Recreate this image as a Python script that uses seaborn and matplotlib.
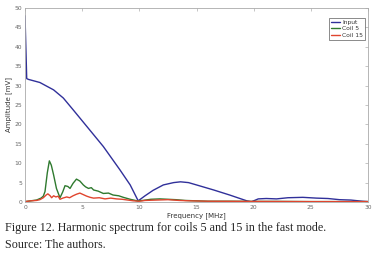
import pandas as pd
import seaborn as sns
import matplotlib.pyplot as plt

# values (frequency in MHz, amplitude in mV)
input_f = [0, 0.15, 0.3, 1.3, 2.5, 3.35, 4.2, 5.4, 6.85, 8.3, 9.2, 9.9, 10.5, 11.2, 12.1, 13.0,
           13.6, 14.3, 15.0, 16.5, 17.9, 19.4, 19.8, 20.4, 21.1, 22.0, 23.0, 24.3, 25.5, 26.5,
           27.5, 28.5, 29.5, 30.0]
input_v = [48, 31.8, 31.6, 30.8, 28.9, 26.8, 23.8, 19.5, 14.3, 8.3, 4.4, 0.3, 1.6, 3.0, 4.4, 5.0,
           5.2, 5.0, 4.4, 3.1, 1.8, 0.3, 0.05, 0.8, 0.9, 0.8, 1.1, 1.2, 1.0, 0.9,
           0.6, 0.5, 0.2, 0.1]

coil5_f = [0, 0.5, 1.0, 1.4, 1.6, 1.75, 1.95, 2.13, 2.3, 2.5, 2.75, 3.06, 3.3, 3.5, 3.75, 3.94,
           4.2, 4.5, 4.8, 5.1, 5.3, 5.55, 5.8, 6.0, 6.4, 6.85, 7.3, 7.7, 8.2, 8.6, 9.2, 9.8,
           10.3, 11.0, 11.8, 12.5, 13.2, 14.0, 15.0, 16.0, 18.0, 20.0, 22.0, 25.0, 28.0, 30.0]
coil5_v = [0.1, 0.3, 0.5, 1.0, 1.5, 2.7, 7.5, 10.6, 9.5, 7.0, 3.5, 1.1, 2.6, 4.2, 4.0, 3.5,
           4.8, 5.9, 5.4, 4.4, 3.9, 3.5, 3.7, 3.1, 2.8, 2.2, 2.3, 1.8, 1.6, 1.2, 0.7, 0.3,
           0.4, 0.7, 0.8, 0.7, 0.6, 0.4, 0.3, 0.2, 0.2, 0.15, 0.15, 0.1, 0.1, 0.1]

coil15_f = [0, 0.5, 1.0, 1.3, 1.6, 1.85, 2.0, 2.2, 2.33, 2.5, 2.7, 2.9, 3.06, 3.3, 3.65, 3.9,
            4.2, 4.5, 4.8, 5.1, 5.4, 5.7, 6.0, 6.5, 7.0, 7.5, 8.0, 8.5, 9.0, 9.5, 10.0, 10.5,
            11.5, 12.5, 13.5, 14.5, 16.0, 20.0, 25.0, 30.0]
coil15_v = [0.1, 0.3, 0.4, 0.6, 1.1, 1.8, 2.1, 1.6, 1.1, 1.6, 1.3, 1.5, 0.7, 1.0, 1.3, 1.1,
            1.6, 2.0, 2.3, 1.9, 1.5, 1.2, 1.0, 1.1, 0.8, 1.0, 0.8, 0.7, 0.5, 0.3, 0.2, 0.4,
            0.5, 0.6, 0.4, 0.3, 0.2, 0.15, 0.1, 0.1]

series_names = ['Input', 'Coil 5', 'Coil 15']
colors = ['#30309a', '#2f7a2f', '#e0452e']

df = pd.concat([
    pd.DataFrame({'f': input_f, 'v': input_v, 'series': 'Input'}),
    pd.DataFrame({'f': coil5_f, 'v': coil5_v, 'series': 'Coil 5'}),
    pd.DataFrame({'f': coil15_f, 'v': coil15_v, 'series': 'Coil 15'}),
], ignore_index=True)

sns.set_style('white')
plt.rcParams['font.family'] = ['DejaVu Sans']

fig = plt.figure(figsize=(3.77, 2.57), dpi=100)
ax = fig.add_axes([25 / 377, 1 - 202 / 257, 343 / 377, 194 / 257])

sns.lineplot(data=df, x='f', y='v', hue='series', hue_order=series_names,
             palette=colors, estimator=None, sort=True, linewidth=1.0, ax=ax)

ax.set_xlim(0, 30)
ax.set_ylim(0, 50)
ax.set_xticks(range(0, 31, 5))
ax.set_yticks(range(0, 51, 5))
ax.tick_params(direction='in', length=2, width=0.4, labelsize=4.3, colors='#999999',
               labelcolor='#666666', top=True, right=True, pad=2)
for s in ax.spines.values():
    s.set_color('#aaaaaa')
    s.set_linewidth(0.6)

ax.set_xlabel('Frequency [MHz]', fontsize=5, color='#333333', labelpad=2)
ax.set_ylabel('Amplitude [mV]', fontsize=5, color='#333333', labelpad=2)

leg = ax.legend(loc='upper right', bbox_to_anchor=(0.991, 0.948), borderaxespad=0,
                fontsize=4.3, frameon=True, fancybox=False, handlelength=1.6,
                handletextpad=0.3, borderpad=0.3, labelspacing=0.2)
leg.get_frame().set_edgecolor('#333333')
leg.get_frame().set_linewidth(0.5)
for t in leg.get_texts():
    t.set_color('#333333')

fig.text(5 / 377, 1 - 228 / 257, 'Figure 12. Harmonic spectrum for coils 5 and 15 in the fast mode.',
         family='Liberation Serif', fontsize=8.7, va='center', ha='left')
fig.text(5 / 377, 1 - 245 / 257, 'Source: The authors.',
         family='Liberation Serif', fontsize=8.7, va='center', ha='left')

fig.savefig('out.png', dpi=100, facecolor='white')
